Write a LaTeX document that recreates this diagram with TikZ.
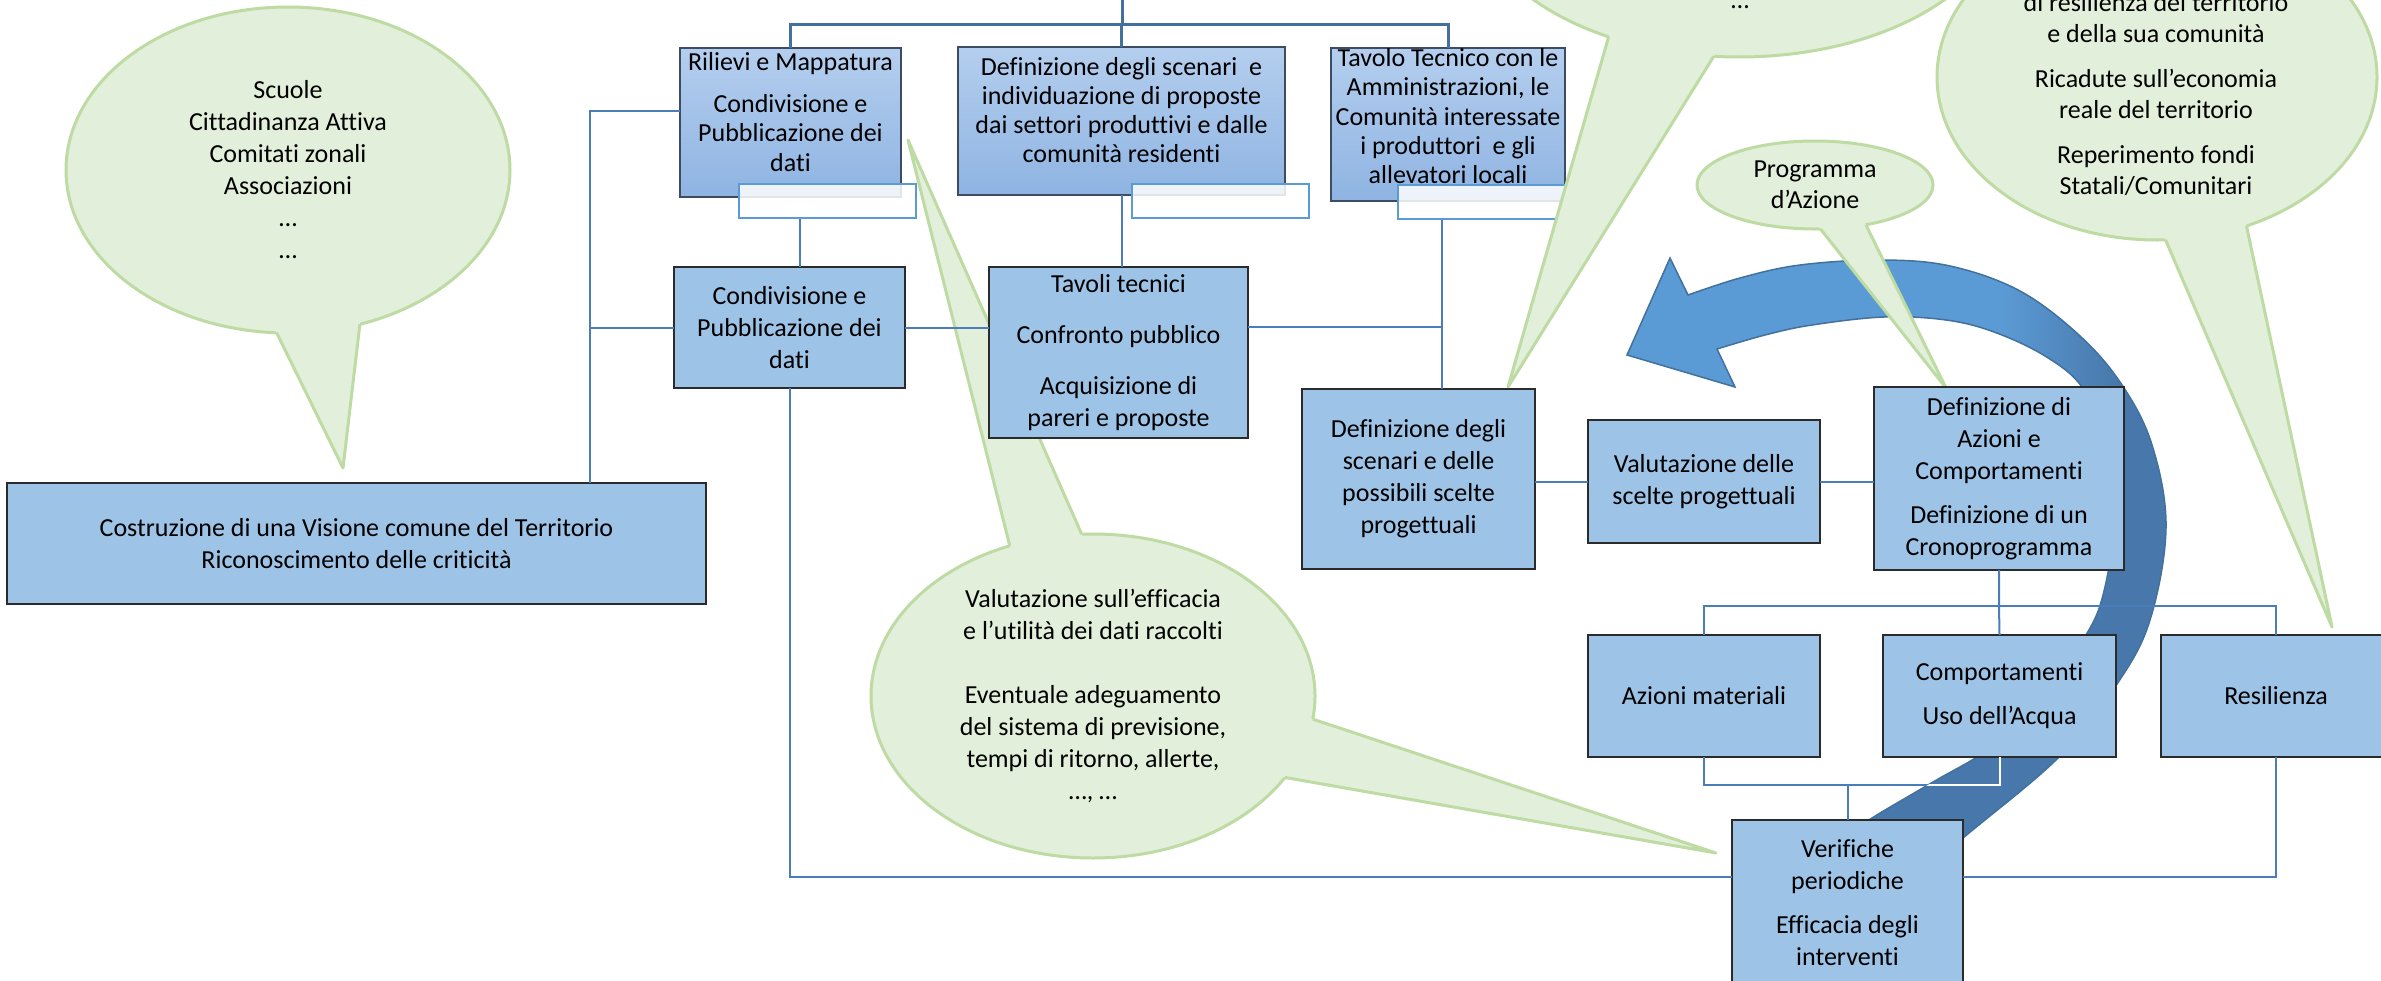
\documentclass[tikz,border=0pt]{standalone}
\usepackage{fontspec}
\setmainfont{Carlito}[Ligatures=NoCommon]
\usetikzlibrary{shapes.geometric,calc}
\definecolor{boxFill}{HTML}{9DC3E6}
\definecolor{boxTopA}{HTML}{B4CEEE}
\definecolor{boxTopB}{HTML}{8FB4E2}
\definecolor{boxLine}{HTML}{2B2B2B}
\definecolor{boxTopLine}{HTML}{3D4B63}
\definecolor{subLine}{HTML}{5B9BD5}
\definecolor{connLine}{HTML}{4A7EBB}
\definecolor{busLine}{HTML}{41719C}
\definecolor{bubFill}{HTML}{E2EFDA}
\definecolor{bubLine}{HTML}{BDDBA3}
\definecolor{arrowLight}{HTML}{5B9BD5}
\definecolor{arrowDark}{HTML}{4878AB}
\definecolor{arrowEdge}{HTML}{41719C}
\pgfdeclarehorizontalshading{arrowshade}{100bp}{color(0bp)=(arrowLight); color(62bp)=(arrowLight); color(73bp)=(arrowDark); color(100bp)=(arrowDark)}
% outline of the big circular arrow (its tail runs behind the lower boxes)
\newcommand{\cyclearrow}{plot[smooth,tension=0.6] coordinates {(1915,880) (1963,838) (2059,757) (2117,684) (2150,620) (2166,527) (2152,445) (2122,385) (2080,336) (2020,291) (1950,266) (1880,260) (1800,265) (1740,278) (1688,295)}
  -- (1670,258) -- (1627,355) -- (1735,387)
  -- plot[smooth,tension=0.6] coordinates {(1717,349) (1765,335) (1812,325) (1884,317) (1946,320) (1994,332) (2045,356) (2082,387) (2106,440) (2114,520) (2103,595) (2083,640) (2040,700) (1990,748) (1933,782) (1872,818) (1850,835)} -- cycle}

\begin{document}
\begin{tikzpicture}[x=1pt,y=-1pt,
  font=\fontsize{26}{32}\selectfont,
  box/.style={rectangle,draw=boxLine,line width=1.5pt,fill=boxFill,align=center,inner sep=0pt,outer sep=0pt},
  topbox/.style={box,draw=boxTopLine,top color=boxTopA,bottom color=boxTopB,
                 font=\fontsize{26}{29.3}\selectfont,text depth=21pt},
  subbox/.style={rectangle,draw=subLine,line width=2pt,fill=white,fill opacity=0.85,
                 minimum width=177pt,minimum height=34pt,inner sep=0pt},
  bubble/.style={ellipse,draw=bubLine,line width=3pt,fill=bubFill,align=center,inner sep=0pt,outer sep=0pt},
  bubtext/.style={align=center,inner sep=0pt},
  tailfill/.style={fill=bubFill},
  tailline/.style={draw=bubLine,line width=3pt,line join=round},
  conn/.style={draw=connLine,line width=2pt},
  bus/.style={draw=busLine,line width=3pt},
]
\useasboundingbox (0,0) rectangle (2381,980);
\clip (0,0) rectangle (2381,980);

% circular arrow
\fill[arrowDark] \cyclearrow;
\begin{scope}
  \clip \cyclearrow;
  \shade[shading=arrowshade] (1600,240) rectangle (2140,420);
\end{scope}
\draw[arrowEdge,line width=1.5pt] \cyclearrow;

% top row
\node[topbox,minimum width=221pt,minimum height=149pt] (rilievi) at (790.5,122.5)
  {Rilievi e Mappatura\\[12.5pt]Condivisione e\\Pubblicazione dei\\dati};
\node[topbox,minimum width=327pt,minimum height=148pt,text depth=22pt] (scenari) at (1121.5,121)
  {Definizione degli scenari\ \ e\\individuazione di proposte\\dai settori produttivi e dalle\\comunità residenti};
\node[topbox,minimum width=234pt,minimum height=153pt,text depth=17pt] (tavolo) at (1448,124.5)
  {Tavolo Tecnico con le\\Amministrazioni, le\\Comunità interessate\\i produttori\ \ e gli\\allevatori locali};
\node[subbox] (rilSub) at (827.5,201) {};
\node[subbox] (scenSub) at (1220,201) {};
\node[subbox] (tavSub) at (1486.5,202) {};

% speech bubbles
\node[bubble,minimum width=444pt,minimum height=326pt] (bScuole) at (288,170)
  {Scuole\\Cittadinanza Attiva\\Comitati zonali\\Associazioni\\…\\…};
\coordinate (tipScuole) at (343,468);
\fill[tailfill] ($(tipScuole)!1.08!(bScuole.-94)$) -- (tipScuole) -- ($(tipScuole)!1.08!(bScuole.-65)$) -- cycle;
\draw[tailline] (bScuole.-94) -- (tipScuole) -- (bScuole.-65);

\node[bubble,minimum width=444pt,minimum height=324pt] (bEfficacia) at (1093,696)
  {Valutazione sull’efficacia\\e l’utilità dei dati raccolti\\[32pt]Eventuale adeguamento\\del sistema di previsione,\\tempi di ritorno, allerte,\\…, …};
\coordinate (tipRilievi) at (908,140);
\coordinate (tipVerif) at (1716,853);
\fill[tailfill] ($(tipRilievi)!1.04!(bEfficacia.119)$) -- (tipRilievi) -- ($(tipRilievi)!1.04!(bEfficacia.94)$) -- cycle;
\draw[tailline] (bEfficacia.119) -- (tipRilievi) -- (bEfficacia.94);
\fill[tailfill] ($(tipVerif)!1.05!(bEfficacia.-6)$) -- (tipVerif) -- ($(tipVerif)!1.05!(bEfficacia.-23)$) -- cycle;
\draw[tailline] (bEfficacia.-6) -- (tipVerif) -- (bEfficacia.-23);

\node[bubble,minimum width=236pt,minimum height=88pt,font=\fontsize{26}{31}\selectfont] (bProgramma) at (1815,185)
  {Programma\\d’Azione};
\coordinate (tipAzioni) at (1946,388);
\fill[tailfill] ($(tipAzioni)!1.05!(bProgramma.-83)$) -- (tipAzioni) -- ($(tipAzioni)!1.05!(bProgramma.-38)$) -- cycle;
\draw[tailline] (bProgramma.-83) -- (tipAzioni) -- (bProgramma.-38);

\node[bubble,minimum width=440pt,minimum height=326pt] (bRicadute) at (2157,77) {};
\node[bubtext,font=\fontsize{26}{31}\selectfont] (ricTxt) at (2156,94.5)
  {di resilienza del territorio\\e della sua comunità\\[14pt]Ricadute sull’economia\\reale del territorio\\[14pt]Reperimento fondi\\Statali/Comunitari};
\coordinate (tipResil) at (2332,627);
\fill[tailfill] ($(tipResil)!1.05!(bRicadute.-87)$) -- (tipResil) -- ($(tipResil)!1.05!(bRicadute.-59)$) -- cycle;
\draw[tailline] (bRicadute.-87) -- (tipResil) -- (bRicadute.-59);

\node[bubble,minimum width=536pt,minimum height=320pt] (bTop) at (1739,-103) {};
\node[bubtext] (topTxt) at (1740,7) {…};
\coordinate (tipScelte) at (1508,387);
\fill[tailfill] ($(tipScelte)!1.05!(bTop.-133)$) -- (tipScelte) -- ($(tipScelte)!1.05!(bTop.-99)$) -- cycle;
\draw[tailline] (bTop.-133) -- (tipScelte) -- (bTop.-99);

% other boxes
\node[box,minimum width=699pt,minimum height=121pt] (costr) at (356.5,543.5)
  {Costruzione di una Visione comune del Territorio\\Riconoscimento delle criticità};
\node[box,minimum width=231pt,minimum height=121pt] (condiv) at (789.5,327.5)
  {Condivisione e\\Pubblicazione dei\\dati};
\node[box,minimum width=259pt,minimum height=171pt] (tavoli) at (1118.5,352.5)
  {Tavoli tecnici\\[19pt]Confronto pubblico\\[19pt]Acquisizione di\\pareri e proposte};
\node[box,minimum width=233pt,minimum height=180pt] (scelte) at (1418.5,479)
  {Definizione degli\\scenari e delle\\possibili scelte\\progettuali};
\node[box,minimum width=232pt,minimum height=123pt] (valut) at (1704,481.5)
  {Valutazione delle\\scelte progettuali};
\node[box,minimum width=250pt,minimum height=183pt] (azioni) at (1999,478.5)
  {Definizione di\\Azioni e\\Comportamenti\\[12pt]Definizione di un\\Cronoprogramma};
\node[box,minimum width=232pt,minimum height=122pt] (materiali) at (1704,696) {Azioni materiali};
\node[box,minimum width=233pt,minimum height=122pt] (comport) at (1999.5,696)
  {Comportamenti\\[12pt]Uso dell’Acqua};
\node[box,minimum width=230pt,minimum height=122pt] (resil) at (2276,696) {Resilienza};
\node[box,minimum width=231pt,minimum height=166pt] (verif) at (1847.5,903)
  {Verifiche\\periodiche\\[12pt]Efficacia degli\\interventi};

% top bus
\coordinate (topEnd) at (1122,-5);
\coordinate (busTop) at (1122,24);
\draw[bus] (topEnd) -- (busTop);
\draw[bus] (rilievi.north) |- (busTop) -| (tavolo.north);
\draw[bus] (scenari.north) -- (scenari.north |- busTop);

% left bus
\coordinate (lbus) at (590,111);
\draw[conn] (rilievi.west |- lbus) -- (lbus) -- (lbus |- costr.north);
\draw[conn] (condiv.west) -- (condiv.west -| lbus);

% second row
\draw[conn] ([xshift=10pt]condiv.north) -- ([xshift=10pt]condiv.north |- rilSub.south);
\draw[conn] (scenari.south) -- (scenari.south |- tavoli.north);
\draw[conn] (condiv.east) -- (condiv.east -| tavoli.west);
\coordinate (tavJoin) at (1442,327);
\draw[conn] (tavoli.east |- tavJoin) -- (tavJoin);
\draw[conn] (tavSub.south -| tavJoin) -- (tavJoin |- scelte.north);

% middle row
\draw[conn] (scelte.east |- valut.west) -- (valut.west);
\draw[conn] (valut.east) -- (valut.east -| azioni.west);

% actions bus
\coordinate (upBus) at (1999,606);
\draw[conn] (azioni.south) -- (upBus) -- (comport.north);
\draw[conn] (materiali.north) |- (upBus) -| (resil.north);

% checks bus
\coordinate (lowBus) at (1847.5,785);
\coordinate (lowY) at (1000,877);
\draw[conn] (materiali.south) |- (lowBus) -| (comport.south);
\draw[conn] (lowBus) -- (verif.north);
\draw[conn] (condiv.south) |- (verif.west |- lowY);
\draw[conn] (resil.south) |- (verif.east |- lowY);
\begin{scope}
  \clip \cyclearrow;
  \draw[white,line width=2pt] (materiali.south) |- (lowBus) -| (comport.south);
\end{scope}
\end{tikzpicture}
\end{document}
